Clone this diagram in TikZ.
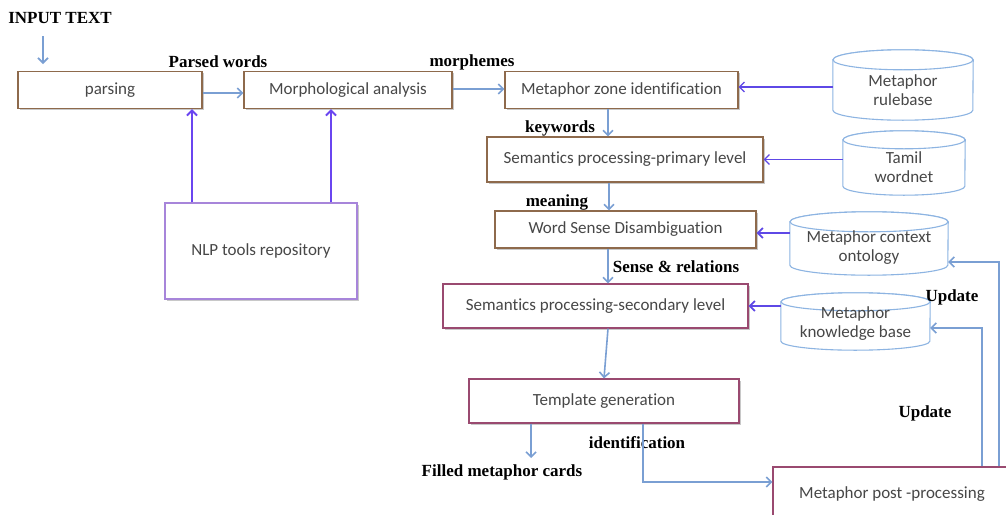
\documentclass[tikz,border=0pt]{standalone}
\usepackage{fontspec}
\setmainfont{Carlito}[Ligatures=CommonOff]
\newfontfamily\labelserif{Liberation Serif}
\usetikzlibrary{arrows.meta,shadows}

\definecolor{flowblue}{HTML}{7A9FD3}
\definecolor{feedpurple}{HTML}{5E48E6}
\definecolor{nlpline}{HTML}{6A45F0}
\definecolor{boxbrown}{HTML}{8E6A4C}
\definecolor{boxplum}{HTML}{9A4A70}
\definecolor{nlpviolet}{HTML}{A785DA}
\definecolor{cylblue}{HTML}{8DB4E2}
\definecolor{txtgray}{HTML}{474747}

\newcommand{\procfont}{\fontsize{17}{19}\selectfont}
\newcommand{\lblfont}{\labelserif\bfseries\fontsize{17}{19}\selectfont}

% database cylinder: name, cx, cy, width, height, cap radius, text drop, text
\newcommand{\dbcylinder}[8]{%
  \node[cylbody, minimum width=#4pt, minimum height=#5pt] (#1) at (#2,#3) {};
  \draw[cylline] ([yshift=-#6pt]#1.north west) -- ([yshift=#6pt]#1.south west)
    arc[start angle=180, end angle=360, x radius=#4pt/2, y radius=#6pt]
    -- ([yshift=-#6pt]#1.north east)
    arc[start angle=0, end angle=180, x radius=#4pt/2, y radius=#6pt] -- cycle;
  \draw[cylline] ([yshift=-#6pt]#1.north) ellipse[x radius=#4pt/2, y radius=#6pt];
  \node[cyltext] (#1-text) at ([yshift=-#7pt]#1.center) {#8};
}

\begin{document}
\begin{tikzpicture}[x=1pt, y=-1pt,
  procbox/.style={draw=#1, line width=1.2pt, fill=white, inner sep=0pt,
    font=\procfont, text=txtgray,
    drop shadow={shadow xshift=1.5pt, shadow yshift=-1.5pt, opacity=0.3, fill=black!70}},
  cylbody/.style={inner sep=0pt},
  cylline/.style={draw=cylblue, line width=1.1pt, fill=white},
  cyltext/.style={font=\procfont, text=txtgray, align=center, inner sep=0pt},
  lbl/.style={font=\lblfont, text=black, inner sep=1pt},
  flow/.style={draw=flowblue, line width=1.6pt, -{Straight Barb[length=5pt, width=10pt]}},
  feed/.style={draw=feedpurple, line width=1.2pt, -{Straight Barb[length=5pt, width=10pt]}},
  feedthick/.style={draw=feedpurple, line width=1.8pt, -{Straight Barb[length=5pt, width=10pt]}},
  nlparrow/.style={draw=nlpline, line width=2pt, -{Straight Barb[length=5pt, width=10pt]}}]

\clip (0,0) rectangle (1006,514);
\fill[white] (0,0) rectangle (1006,514);

% processing stages
\node[procbox=boxbrown, minimum width=184pt, minimum height=37pt] (parse) at (110,90) {parsing};
\node[procbox=boxbrown, minimum width=208pt, minimum height=37pt] (morph) at (348,90) {Morphological analysis};
\node[procbox=boxbrown, minimum width=233pt, minimum height=37pt] (zone) at (621.5,90) {Metaphor zone identification};
\node[procbox=boxbrown, minimum width=276pt, minimum height=45pt] (prim) at (625,159.5) {Semantics processing-primary level};
\node[procbox=boxbrown, minimum width=261pt, minimum height=37pt] (wsd) at (625.5,229.5) {Word Sense Disambiguation};
\node[procbox=boxplum, minimum width=305pt, minimum height=44pt] (sec) at (595.5,306) {Semantics processing-secondary level};
\node[procbox=boxplum, minimum width=270pt, minimum height=44pt] (templ) at (604,401) {Template generation};
\node[procbox=boxplum, minimum width=238pt, minimum height=52pt, text depth=0pt] (post) at (892,493) {Metaphor post -processing};
\node[procbox=nlpviolet, minimum width=192pt, minimum height=96pt] (nlp) at (261,251) {NLP tools repository};

% knowledge stores
\dbcylinder{rb}{903}{85}{140}{70}{10}{5.5}{Metaphor\\rulebase}
\dbcylinder{wn}{904}{163}{122}{64}{9}{4.5}{Tamil\\wordnet}
\dbcylinder{onto}{869}{243.5}{158}{63}{10}{4}{Metaphor context\\ontology}
\dbcylinder{kb}{855.5}{321.5}{149}{57}{9}{2.5}{Metaphor\\knowledge base}

% edge labels
\node[lbl] (intext) at (60,18) {INPUT TEXT};
\node[lbl] (lparsed) at (218,62) {Parsed words};
\node[lbl] (lmorph) at (472,62) {morphemes};
\node[lbl] (lkey) at (560,128) {keywords};
\node[lbl] (lmean) at (557,202) {meaning};
\node[lbl] (lsense) at (676,267) {Sense \& relations};
\node[lbl] (lupd1) at (952,297) {Update};
\node[lbl] (lupd2) at (925,413) {Update};
\node[lbl] (lident) at (637,443) {identification};
\node[lbl] (lfilled) at (502,472) {Filled metaphor cards};

% main flow
\coordinate (inarrow) at (43,36);
\draw[flow] (inarrow) -- (inarrow |- 0,64);
\draw[flow] ([yshift=-3pt]parse.east) -- ([yshift=-3pt]parse.east -| morph.west);
\draw[flow] ([yshift=1pt]morph.east) -- ([yshift=1pt]morph.east -| zone.west);
\draw[flow] ([xshift=-13.5pt]zone.south) -- ([xshift=-13.5pt]zone.south |- prim.north);
\draw[flow] ([xshift=-16pt]prim.south) -- ([xshift=-16pt]prim.south |- wsd.north);
\draw[flow] ([xshift=-17.5pt]wsd.south) -- ([xshift=-17.5pt]wsd.south |- sec.north);
\draw[flow] ([xshift=12.5pt]sec.south) -- (templ.north);
\draw[flow] ([xshift=-73pt]templ.south) -- ([xshift=-73pt]templ.south |- 0,458);
\draw[flow] ([xshift=39pt]templ.south) |- ([yshift=11pt]post.west);

% update feedback
\draw[flow] ([xshift=90pt]post.north) |- ([yshift=-6.5pt]kb.east);
\draw[flow] ([xshift=107pt]post.north) |- ([yshift=-18.5pt]onto.east);

% knowledge inputs
\draw[feed] ([yshift=-2pt]rb.west) -- ([yshift=-2pt]rb.west -| zone.east);
\draw[feed] (prim.east -| wn.west) -- (prim.east);
\draw[feedthick] ([yshift=-3.5pt]wsd.east -| onto.west) -- ([yshift=-3.5pt]wsd.east);
\draw[feedthick] (sec.east -| kb.west) -- (sec.east);

% tool repository
\draw[nlparrow] ([xshift=-69pt]nlp.north) -- ([xshift=-69pt]nlp.north |- parse.south);
\draw[nlparrow] ([xshift=70pt]nlp.north) -- ([xshift=70pt]nlp.north |- morph.south);

\end{tikzpicture}
\end{document}
